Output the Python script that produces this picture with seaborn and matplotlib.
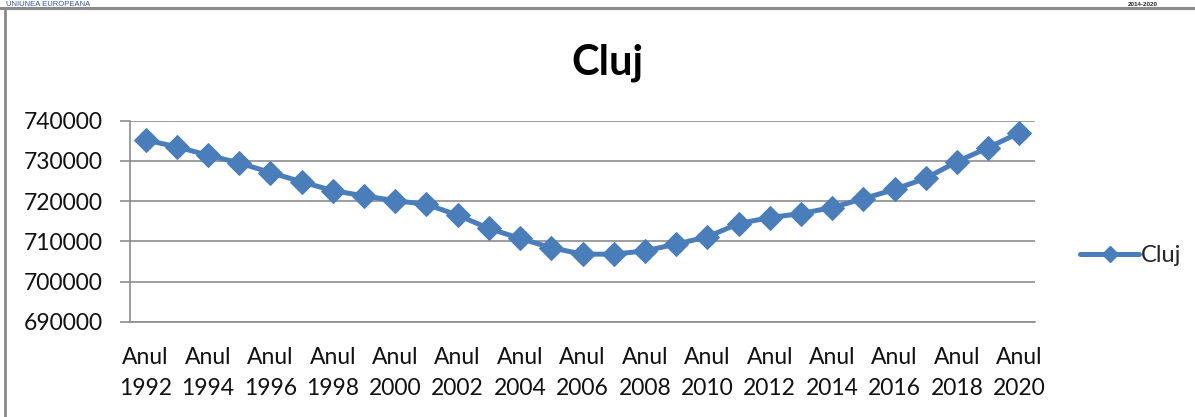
import numpy as np
import pandas as pd
import seaborn as sns
import matplotlib
matplotlib.use("Agg")
import matplotlib.pyplot as plt
from matplotlib.lines import Line2D
from matplotlib.ticker import FixedLocator, NullFormatter

# values (Cluj population per year)
years = list(range(1992, 2021))
populatie = [735200, 733500, 731400, 729500, 727100, 724800, 722600, 721300,
             720100, 719200, 716500, 713200, 710700, 708400, 706800, 706800,
             707600, 709300, 711100, 714400, 715900, 716900, 718400, 720600,
             722900, 725700, 729800, 733300, 737000]
y_ticks = [690000, 700000, 710000, 720000, 730000, 740000]
serie = "Cluj"

df = pd.DataFrame({"idx": np.arange(len(years)), "an": years, "val": populatie})

sns.set_style("white")
plt.rcParams['font.family'] = ['Lato', 'DejaVu Sans']

fig = plt.figure(figsize=(11.95, 4.17), dpi=100)
ax = fig.add_axes([130 / 1195, 1 - 321.7 / 417, 905 / 1195, 201 / 417])

blue = "#4a7ebb"
sns.lineplot(data=df, x="idx", y="val", ax=ax, color=blue, linewidth=3.6,
             marker="D", markersize=12.5, markeredgecolor=blue, label=serie)

ax.set_xlim(-0.5, len(years) - 0.5)
ax.set_ylim(y_ticks[0], y_ticks[-1])
ax.set_yticks(y_ticks)
ax.set_yticklabels([str(v) for v in y_ticks])
ax.yaxis.grid(True, color="#8c8c8c", linewidth=1.2)
ax.xaxis.grid(False)

# labels under every second category, tick marks between categories
ax.xaxis.set_major_locator(FixedLocator(list(range(0, len(years), 2))))
ax.set_xticklabels(["Anul\n%d" % a for a in years[::2]], linespacing=1.6)
ax.xaxis.set_minor_locator(FixedLocator(list(np.arange(-0.5, len(years), 1.0))))
ax.xaxis.set_minor_formatter(NullFormatter())
ax.tick_params(axis="x", which="major", length=0, pad=18, labelsize=16.5, labelcolor="#111111")
ax.tick_params(axis="x", which="minor", length=7.5, width=1.2, color="#8c8c8c", direction="out")
ax.tick_params(axis="y", length=7.5, width=1.2, color="#8c8c8c", pad=12, labelsize=16.5,
               labelcolor="#111111", left=True)
ax.set_xlabel("")
ax.set_ylabel("")

for s in ["top", "right"]:
    ax.spines[s].set_visible(False)
ax.spines["left"].set_color("#8c8c8c")
ax.spines["bottom"].set_color("#8c8c8c")
ax.spines["left"].set_linewidth(1.2)
ax.spines["bottom"].set_linewidth(1.2)

ax.legend(handles=[Line2D([], [], color=blue, linewidth=3.6, marker="D", markersize=8)],
          labels=[serie], loc="center left", bbox_to_anchor=(1.05, 0.33), frameon=False,
          fontsize=17, handlelength=2.5, handletextpad=0.05, borderpad=0, borderaxespad=0)

fig.text(607 / 1195, 1 - 75 / 417, "Cluj", fontsize=30, fontweight="bold",
         ha="center", va="baseline", color="black")

# page header strip, cut off at the top in the original screenshot
fig.add_artist(Line2D([0, 1], [1 - 8 / 417, 1 - 8 / 417], color="#8a8a8a", linewidth=2.2))
fig.add_artist(Line2D([5 / 1195, 5 / 1195], [0, 1 - 8 / 417], color="#8a8a8a", linewidth=2.0))
fig.text(6 / 1195, 1 - 6 / 417, "UNIUNEA EUROPEANA", fontsize=5.5, color="#2e52a3",
         ha="left", va="baseline", family=["Liberation Sans", "DejaVu Sans"])
fig.text(1143 / 1195, 1 - 5.5 / 417, "2014-2020", fontsize=4.5, fontweight="bold", color="#222222",
         ha="center", va="baseline", family=["Liberation Sans", "DejaVu Sans"])

fig.savefig("out.png", dpi=100)
